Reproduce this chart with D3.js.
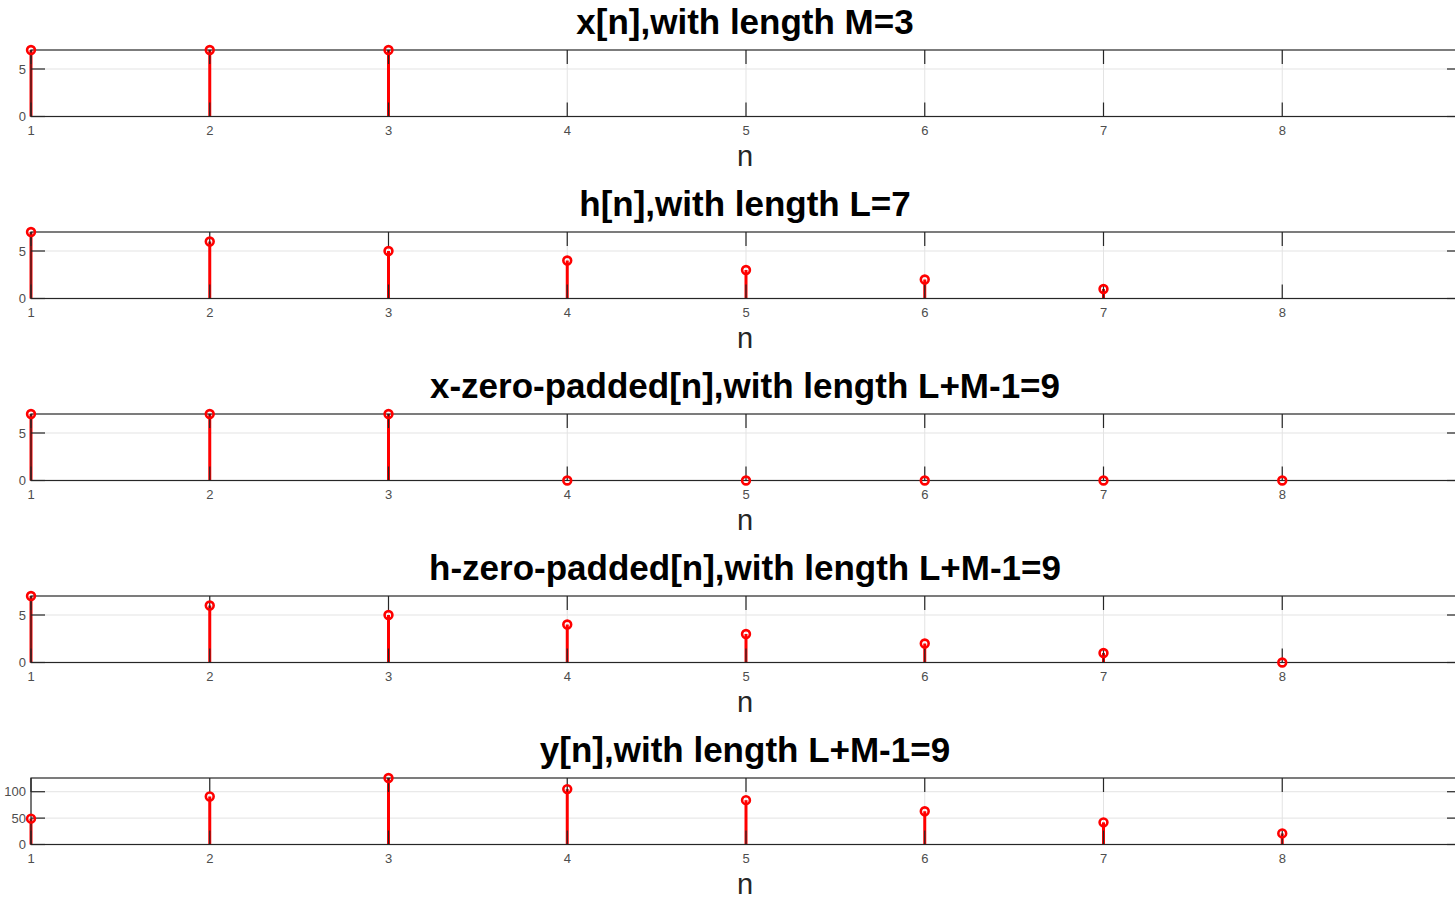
<!DOCTYPE html>
<html>
<head>
<meta charset="utf-8">
<script src="https://cdn.jsdelivr.net/npm/d3@7"></script>
<style>
  body { margin: 0; background: #fff; overflow: hidden; }
  svg { display: block; }
</style>
</head>
<body>
<svg class="chart" width="1455" height="900"></svg>
<script>
// data for each subplot
var titles = [
  "x[n],with length M=3",
  "h[n],with length L=7",
  "x-zero-padded[n],with length L+M-1=9",
  "h-zero-padded[n],with length L+M-1=9",
  "y[n],with length L+M-1=9"
];
var xSeq = [7, 7, 7];
var hSeq = [7, 6, 5, 4, 3, 2, 1];
var xPad = [7, 7, 7, 0, 0, 0, 0, 0, 0];
var hPad = [7, 6, 5, 4, 3, 2, 1, 0, 0];
var ySeq = [49, 91, 126, 105, 84, 63, 42, 21, 7];
var series = [xSeq, hSeq, xPad, hPad, ySeq];
var yMax = [7, 7, 7, 7, 126];
var yTicks = [[0, 5], [0, 5], [0, 5], [0, 5], [0, 50, 100]];
var xTicks = [1, 2, 3, 4, 5, 6, 7, 8, 9];

var svg = d3.select("svg.chart");
var W = +svg.attr("width");
var left = 31, right = 1461, top0 = 50, step = 182, ph = 66.5;
var axisCol = "#262626", tickLen = 14;
var font = "Liberation Sans, Arial, sans-serif";

var x = d3.scaleLinear().domain([1, 9]).range([left, right]);
// the last tick sits past the page edge, so only label what is on screen
var xLabels = xTicks.filter(function(t) { return x(t) < W - 8; });

series.forEach(function(vals, k) {
  var top = top0 + k * step;
  var y = d3.scaleLinear().domain([0, yMax[k]]).range([top + ph, top]);
  var g = svg.append("g");
  var data = vals.map(function(v, i) { return {n: i + 1, v: v}; });

  // grid
  g.selectAll(".gx").data(xTicks).enter().append("line")
    .attr("x1", function(d) { return x(d); }).attr("x2", function(d) { return x(d); })
    .attr("y1", top).attr("y2", top + ph)
    .attr("stroke", "#e3e3e3").attr("stroke-width", 1);
  g.selectAll(".gy").data(yTicks[k]).enter().append("line")
    .attr("x1", left).attr("x2", right)
    .attr("y1", function(d) { return y(d); }).attr("y2", function(d) { return y(d); })
    .attr("stroke", "#e3e3e3").attr("stroke-width", 1);

  // stems
  g.selectAll(".stem").data(data).enter().append("line")
    .attr("x1", function(d) { return x(d.n); }).attr("x2", function(d) { return x(d.n); })
    .attr("y1", y(0)).attr("y2", function(d) { return y(d.v); })
    .attr("stroke", "#ff0000").attr("stroke-width", 3);

  // box + ticks on top
  g.append("rect").attr("x", left).attr("y", top).attr("width", right - left).attr("height", ph)
    .attr("fill", "none").attr("stroke", axisCol).attr("stroke-width", 1.2);
  xTicks.forEach(function(t) {
    g.append("line").attr("x1", x(t)).attr("x2", x(t)).attr("y1", top + ph).attr("y2", top + ph - tickLen)
      .attr("stroke", axisCol).attr("stroke-width", 1.2);
    g.append("line").attr("x1", x(t)).attr("x2", x(t)).attr("y1", top).attr("y2", top + tickLen)
      .attr("stroke", axisCol).attr("stroke-width", 1.2);
  });
  yTicks[k].forEach(function(t) {
    g.append("line").attr("x1", left).attr("x2", left + tickLen).attr("y1", y(t)).attr("y2", y(t))
      .attr("stroke", axisCol).attr("stroke-width", 1.2);
    g.append("line").attr("x1", right).attr("x2", right - tickLen).attr("y1", y(t)).attr("y2", y(t))
      .attr("stroke", axisCol).attr("stroke-width", 1.2);
  });

  // markers
  g.selectAll(".mk").data(data).enter().append("circle")
    .attr("cx", function(d) { return x(d.n); }).attr("cy", function(d) { return y(d.v); })
    .attr("r", 3.9).attr("fill", "none").attr("stroke", "#ff0000").attr("stroke-width", 2.6);

  // tick labels
  g.selectAll(".xl").data(xLabels).enter().append("text")
    .attr("x", function(d) { return x(d); }).attr("y", top + ph + 18)
    .attr("text-anchor", "middle").attr("font-family", font)
    .attr("font-size", 13).attr("fill", "#4d4d4d").text(function(d) { return d; });
  g.selectAll(".yl").data(yTicks[k]).enter().append("text")
    .attr("x", left - 5).attr("y", function(d) { return y(d) + 4.5; })
    .attr("text-anchor", "end").attr("font-family", font)
    .attr("font-size", 13).attr("fill", "#4d4d4d").text(function(d) { return d; });

  // x label and title
  g.append("text").attr("x", (left + right) / 2 - 1).attr("y", top + ph + 49)
    .attr("text-anchor", "middle").attr("font-family", font)
    .attr("font-size", 29).attr("fill", "#262626").text("n");
  g.append("text").attr("x", (left + right) / 2 - 1).attr("y", top - 16)
    .attr("text-anchor", "middle").attr("font-family", font)
    .attr("font-weight", "bold").attr("font-size", 35).attr("fill", "#000").text(titles[k]);
});
</script>
</body>
</html>
